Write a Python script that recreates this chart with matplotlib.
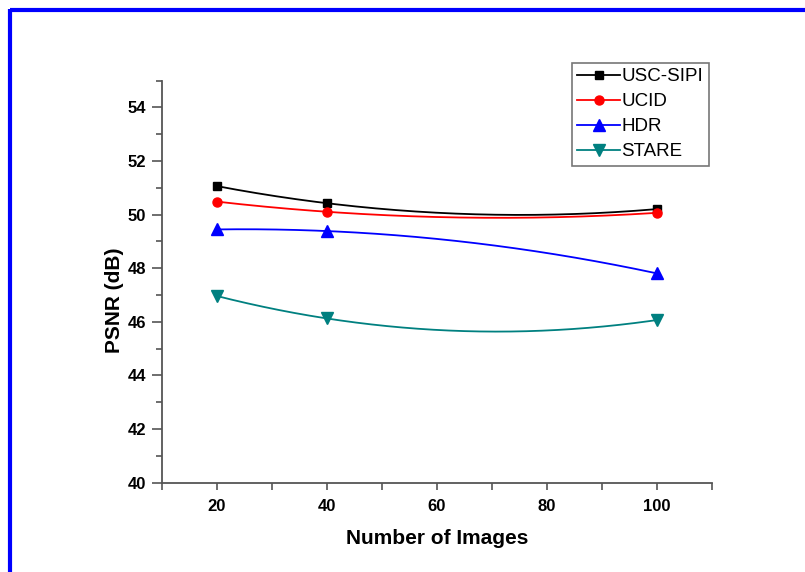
import numpy as np
import matplotlib
matplotlib.use("Agg")
import matplotlib.pyplot as plt
from matplotlib.lines import Line2D

plt.rcParams['font.family'] = ['Liberation Sans', 'DejaVu Sans']

# Data
num_images = [20, 40, 100]
usc_sipi = [51.07, 50.43, 50.21]
ucid = [50.49, 50.11, 50.07]
hdr = [49.45, 49.39, 47.81]
stare = [46.97, 46.13, 46.07]

series = [
    ("USC-SIPI", usc_sipi, "black", "s", 6),
    ("UCID", ucid, "red", "o", 6.5),
    ("HDR", hdr, "blue", "^", 8.5),
    ("STARE", stare, "#008080", "v", 8.5),
]

W, H = 805, 572
fig = plt.figure(figsize=(W / 100, H / 100), dpi=100)
ax = fig.add_axes([161.5 / W, 1 - 482.7 / H, (712 - 161.5) / W, (482.7 - 80.7) / H])

xs = np.array(num_images, dtype=float)
xx = np.linspace(xs.min(), xs.max(), 200)
handles = []
for name, vals, col, mk, ms in series:
    coef = np.polyfit(xs, vals, 2)
    ax.plot(xx, np.polyval(coef, xx), color=col, lw=1.3, zorder=2)
    ax.plot(xs, vals, linestyle='none', marker=mk, color=col, ms=ms, zorder=3)
    handles.append(Line2D([], [], color=col, lw=1.3, marker=mk, ms=ms, label=name))

ax.set_xlim(10, 110)
ax.set_ylim(40, 55)
ax.set_xticks([20, 40, 60, 80, 100])
ax.set_xticks([10, 30, 50, 70, 90, 110], minor=True)
ax.set_yticks([40, 42, 44, 46, 48, 50, 52, 54])
ax.set_yticks([41, 43, 45, 47, 49, 51, 53, 55], minor=True)

for s in ['top', 'right']:
    ax.spines[s].set_visible(False)
for s in ['left', 'bottom']:
    ax.spines[s].set_color('#555555')
    ax.spines[s].set_linewidth(1.3)

ax.tick_params(axis='both', which='both', direction='out', color='#555555', width=1.2)
ax.tick_params(axis='y', which='major', length=7, pad=4)
ax.tick_params(axis='y', which='minor', length=4)
ax.tick_params(axis='x', which='major', length=5, pad=7)
ax.tick_params(axis='x', which='minor', length=5)
for lab in ax.get_xticklabels() + ax.get_yticklabels():
    lab.set_fontsize(12)
    lab.set_fontweight('bold')

fig.text(436.7 / W, 1 - 538 / H, "Number of Images", ha='center', va='center',
         fontsize=15, fontweight='bold')
fig.text(114 / W, 1 - 300 / H, "PSNR (dB)", ha='center', va='center',
         rotation=90, fontsize=15, fontweight='bold')

leg = fig.legend(handles=handles, loc='upper left',
                 bbox_to_anchor=(571.7 / W, 1 - 62.7 / H), borderaxespad=0,
                 fontsize=13.5, frameon=True, fancybox=False, edgecolor='#555555',
                 handlelength=2.3, handletextpad=0.05, labelspacing=0.42,
                 borderpad=0.3, numpoints=1)
leg.get_frame().set_linewidth(1.2)

# blue border (top and left)
fig.add_artist(Line2D([10 / W, 1], [1 - 10 / H, 1 - 10 / H], color='#0000ff', lw=3,
                      transform=fig.transFigure, solid_capstyle='butt'))
fig.add_artist(Line2D([10 / W, 10 / W], [0, 1 - 8.5 / H], color='#0000ff', lw=3,
                      transform=fig.transFigure, solid_capstyle='butt'))

fig.savefig("out.png", dpi=100)
